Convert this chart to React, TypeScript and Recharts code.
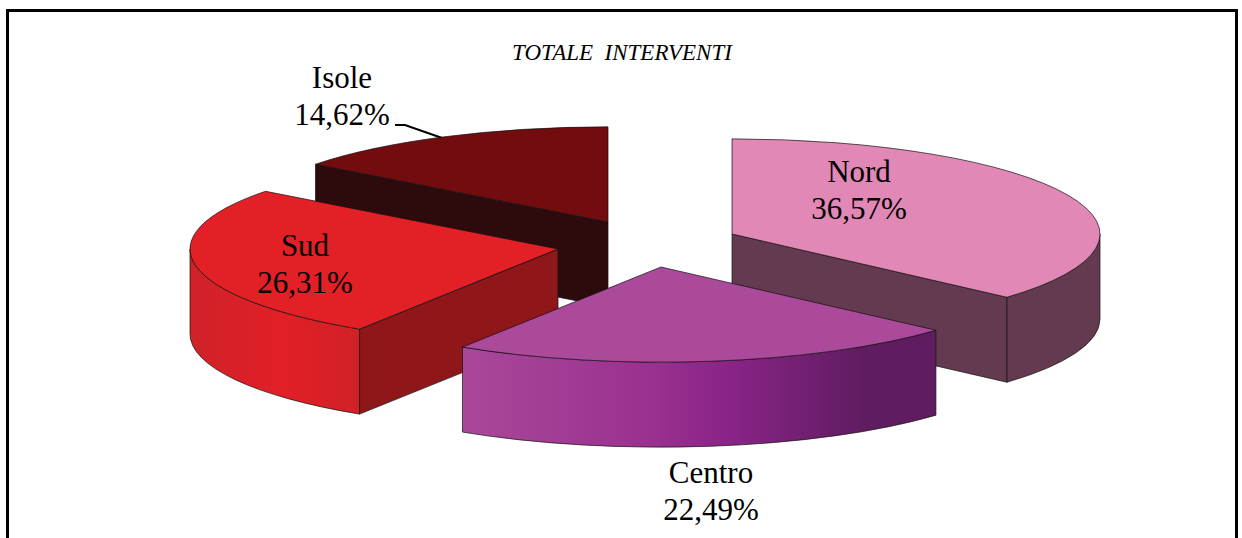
import { Pie, PieChart } from 'recharts';

const names = ['Nord', 'Centro', 'Sud', 'Isole'];
const shares = [36.57, 22.49, 26.31, 14.62];
const chartTitle = 'TOTALE  INTERVENTI';

const data = names.map((name, i) => ({ name, value: shares[i] }));

// back to front, so the exploded slices overlap as in the reference
const paintOrder = ['Isole', 'Nord', 'Sud', 'Centro'];

const RADIUS = 368;
const TILT = 0.2585;
const DEPTH = 85;
const SERIF = '"Liberation Serif", "Times New Roman", serif';

const explode: Record<string, [number, number]> = {
  Nord: [85, -11],
  Centro: [14, 22],
  Sud: [-89, 4],
  Isole: [-39, -23],
};

const skins: Record<string, { top: string; face: string; wall: string }> = {
  Nord: { top: '#e288b6', face: '#643a50', wall: '#643a50' },
  Centro: { top: '#ab4a9b', face: '#5f1c60', wall: 'url(#centroWall)' },
  Sud: { top: '#e22026', face: '#8f1619', wall: 'url(#sudWall)' },
  Isole: { top: '#730c0f', face: '#2d0b0d', wall: '#2d0b0d' },
};

const labelSpots: Record<string, [number, number]> = {
  Nord: [859, 182],
  Centro: [711, 483],
  Sud: [305, 256],
  Isole: [342, 88],
};

const rad = (deg: number) => (deg * Math.PI) / 180;

function Slice3D({ cx, cy, startAngle, endAngle, name }: any) {
  const [dx, dy] = explode[name];
  const ox = cx + dx;
  const oy = cy + dy;
  const ry = RADIUS * TILT;
  const pt = (a: number) => [ox + RADIUS * Math.cos(rad(a)), oy - ry * Math.sin(rad(a))];
  const skin = skins[name];
  const edge = { stroke: '#111', strokeWidth: 0.7, strokeLinejoin: 'round' as const };

  const quad = (a: number) => {
    const [x, y] = pt(a);
    return `M${ox},${oy} L${x},${y} L${x},${y + DEPTH} L${ox},${oy + DEPTH} Z`;
  };

  const [sx, sy] = pt(startAngle);
  const [ex, ey] = pt(endAngle);
  const large = startAngle - endAngle > 180 ? 1 : 0;
  const top = `M${ox},${oy} L${sx},${sy} A${RADIUS},${ry} 0 ${large} 1 ${ex},${ey} Z`;

  // outer wall only shows on the front half of the ellipse
  const hi = Math.min(startAngle, 0);
  const lo = Math.max(endAngle, -180);
  let wall = '';
  if (hi > lo) {
    const [hx, hy] = pt(hi);
    const [lx, ly] = pt(lo);
    wall =
      `M${hx},${hy} A${RADIUS},${ry} 0 0 1 ${lx},${ly} L${lx},${ly + DEPTH} ` +
      `A${RADIUS},${ry} 0 0 0 ${hx},${hy + DEPTH} Z`;
  }

  return (
    <g>
      {Math.cos(rad(startAngle)) < -0.001 && <path d={quad(startAngle)} fill={skin.face} {...edge} />}
      {Math.cos(rad(endAngle)) > 0.001 && <path d={quad(endAngle)} fill={skin.face} {...edge} />}
      {wall && <path d={wall} fill={skin.wall} {...edge} />}
      <path d={top} fill={skin.top} {...edge} />
    </g>
  );
}

function SliceLabel({ name, value }: any) {
  const [x, y] = labelSpots[name];
  return (
    <text x={x} textAnchor="middle" fontFamily={SERIF} fontSize={31} fill="#000">
      <tspan x={x} y={y}>{name}</tspan>
      <tspan x={x} y={y + 37}>{value.toFixed(2).replace('.', ',')}%</tspan>
    </text>
  );
}

export default function App() {
  return (
    <div style={{ position: 'absolute', left: 0, top: 0, width: 1242, height: 538, overflow: 'hidden', background: '#fff' }}>
      <div
        style={{
          position: 'absolute',
          left: 6,
          top: 9,
          width: 1226,
          height: 540,
          borderTop: '3px solid #000',
          borderLeft: '3px solid #000',
          borderRight: '3px solid #000',
        }}
      />
      <div style={{ position: 'absolute', left: 0, top: 0 }}>
        <PieChart width={1242} height={538} margin={{ top: 0, right: 0, bottom: 0, left: 0 }}>
          <defs>
            <linearGradient id="centroWall" x1="0" y1="0" x2="1" y2="0">
              <stop offset="0%" stopColor="#a94899" />
              <stop offset="40%" stopColor="#9a308f" />
              <stop offset="56%" stopColor="#8a2488" />
              <stop offset="85%" stopColor="#5f1c60" />
              <stop offset="100%" stopColor="#5f1c60" />
            </linearGradient>
            <linearGradient id="sudWall" x1="0" y1="0" x2="1" y2="0">
              <stop offset="0%" stopColor="#cf2228" />
              <stop offset="55%" stopColor="#e21f26" />
              <stop offset="100%" stopColor="#d02127" />
            </linearGradient>
          </defs>
          {paintOrder.map((only, pass) => (
            <Pie
              key={only}
              data={data}
              dataKey="value"
              nameKey="name"
              cx={647}
              cy={245}
              outerRadius={RADIUS}
              startAngle={90}
              endAngle={-270}
              stroke="none"
              isAnimationActive={false}
              labelLine={false}
              label={pass === paintOrder.length - 1 ? (p: any) => <SliceLabel {...p} /> : false}
              shape={(p: any) => (p.name === only ? <Slice3D {...p} /> : <g />)}
            />
          ))}
          <path d="M395,125 L405,125 L445,139" fill="none" stroke="#000" strokeWidth={2} />
          <text
            x={622}
            y={60}
            textAnchor="middle"
            fontFamily={SERIF}
            fontStyle="italic"
            fontSize={23}
            fill="#000"
            style={{ whiteSpace: 'pre' }}
          >
            {chartTitle}
          </text>
        </PieChart>
      </div>
    </div>
  );
}
